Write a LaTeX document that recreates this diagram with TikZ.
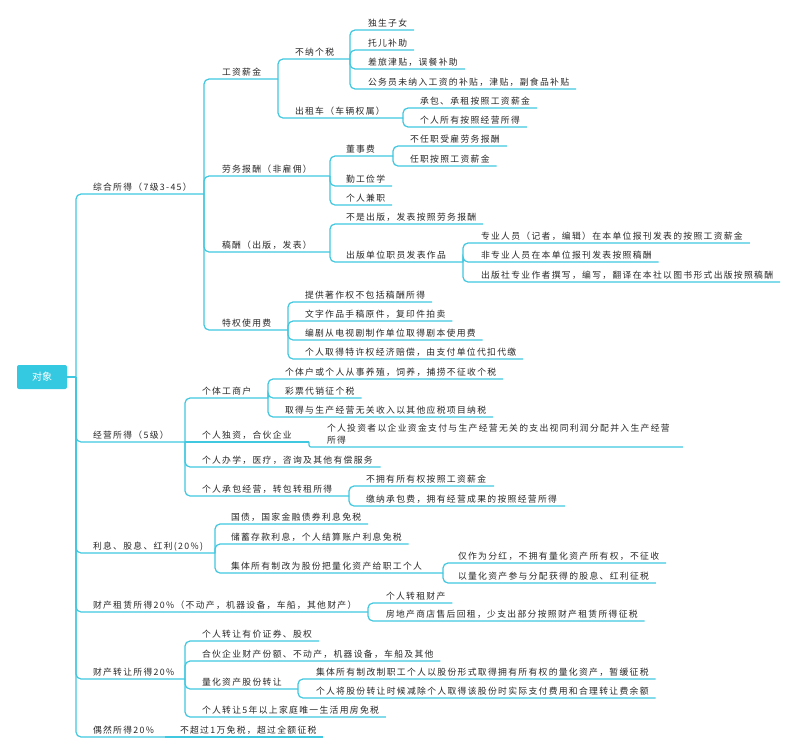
\documentclass[tikz,border=0pt]{standalone}
\usepackage{fontspec}
\newfontfamily\cjk[LetterSpace=15]{Noto Sans CJK SC}
\newfontfamily\cjkroot{Noto Sans CJK SC}
\definecolor{lc}{RGB}{64,200,224}
\definecolor{rootc}{RGB}{52,200,225}
\definecolor{tc}{RGB}{40,40,40}
\tikzset{
  t/.style={anchor=base west, inner sep=0pt, outer sep=0pt, font=\cjk\fontsize{8.8}{12}\selectfont, text=tc},
  link/.style={draw=lc, line width=1.2pt, rounded corners=5pt},
  rootbox/.style={fill=rootc, draw=none, rounded corners=2pt, minimum width=50pt, minimum height=24pt, inner sep=0pt, text=white, font=\cjkroot\fontsize{10}{12}\selectfont},
}
\begin{document}
\begin{tikzpicture}[x=1pt,y=-1pt]
\useasboundingbox[fill=white] (0,0) rectangle (800,753);
% root
\node[rootbox] (R) at (42,377) {对象};
\coordinate (Rj) at (76,377);
\draw[link] (R.east) -- (Rj);

% ---------- level 1
\node[t] (A) at (93,190) {综合所得（7级3-45）};
\coordinate (Aj) at (204,194);
\node[t] (B) at (93,438) {经营所得（5级）};
\coordinate (Bj) at (185,442);
\node[t] (C) at (93,549) {利息、股息、红利(20\%)};
\coordinate (Cj) at (215,553);
\node[t] (D) at (93,608) {财产租赁所得20\%（不动产，机器设备，车船，其他财产）};
\coordinate (Dj) at (368,612);
\node[t] (E) at (93,675) {财产转让所得20\%};
\coordinate (Ej) at (185,679);
\node[t] (F) at (93,733) {偶然所得20\%};
\coordinate (Fj) at (165,737);
\foreach \k in {Aj,Bj,Cj,Dj,Ej,Fj} \draw[link] (Rj) |- (\k);

% ---------- A
\node[t] (A1) at (222,75) {工资薪金};
\coordinate (A1j) at (278,79);
\node[t] (A2) at (222,172) {劳务报酬（非雇佣）};
\coordinate (A2j) at (330,176);
\node[t] (A3) at (222,248) {稿酬（出版，发表）};
\coordinate (A3j) at (330,252);
\node[t] (A4) at (222,326) {特权使用费};
\coordinate (A4j) at (288,330);
\foreach \k in {A1j,A2j,A3j,A4j} \draw[link] (Aj) |- (\k);

\node[t] (A11) at (295,55) {不纳个税};
\coordinate (A11j) at (350,59);
\node[t] (A12) at (295,114) {出租车（车辆权属）};
\coordinate (A12j) at (403,118);
\foreach \k in {A11j,A12j} \draw[link] (A1j) |- (\k);

\node[t] (A111) at (368,26) {独生子女};
\node[t] (A112) at (368,46) {托儿补助};
\node[t] (A113) at (368,65) {差旅津贴，误餐补助};
\node[t] (A114) at (368,85) {公务员未纳入工资的补贴，津贴，副食品补贴};
\foreach \k in {A111,A112,A113,A114} \draw[link] (A11j) |- ([xshift=7pt,yshift=-4pt]\k.base east);

\node[t] (A121) at (420,104) {承包、承租按照工资薪金};
\node[t] (A122) at (420,123) {个人所有按照经营所得};
\foreach \k in {A121,A122} \draw[link] (A12j) |- ([xshift=7pt,yshift=-4pt]\k.base east);

\node[t] (A21) at (346,152) {董事费};
\coordinate (A21j) at (393,156);
\draw[link] (A2j) |- (A21j);
\node[t] (A22) at (346,182) {勤工俭学};
\node[t] (A23) at (346,201) {个人兼职};
\foreach \k in {A22,A23} \draw[link] (A2j) |- ([xshift=7pt,yshift=-4pt]\k.base east);
\node[t] (A211) at (410,142) {不任职受雇劳务报酬};
\node[t] (A212) at (410,162) {任职按照工资薪金};
\foreach \k in {A211,A212} \draw[link] (A21j) |- ([xshift=7pt,yshift=-4pt]\k.base east);

\node[t] (A31) at (346,220) {不是出版，发表按照劳务报酬};
\draw[link] (A3j) |- ([xshift=7pt,yshift=-4pt]A31.base east);
\node[t] (A32) at (346,258) {出版单位职员发表作品};
\coordinate (A32j) at (463,262);
\draw[link] (A3j) |- (A32j);
\node[t] (A321) at (481,239) {专业人员（记者，编辑）在本单位报刊发表的按照工资薪金};
\node[t] (A322) at (481,258) {非专业人员在本单位报刊发表按照稿酬};
\node[t] (A323) at (481,278) {出版社专业作者撰写，编写，翻译在本社以图书形式出版按照稿酬};
\foreach \k in {A321,A322,A323} \draw[link] (A32j) |- ([xshift=7pt,yshift=-4pt]\k.base east);

\node[t] (A41) at (305,298) {提供著作权不包括稿酬所得};
\node[t] (A42) at (305,317) {文字作品手稿原件，复印件拍卖};
\node[t] (A43) at (305,336) {编剧从电视剧制作单位取得剧本使用费};
\node[t] (A44) at (305,355) {个人取得特许权经济赔偿，由支付单位代扣代缴};
\foreach \k in {A41,A42,A43,A44} \draw[link] (A4j) |- ([xshift=7pt,yshift=-4pt]\k.base east);

% ---------- B
\node[t] (B1) at (202,394) {个体工商户};
\coordinate (B1j) at (268,398);
\draw[link] (Bj) |- (B1j);
\node[t] (B2) at (202,438) {个人独资，合伙企业};
\coordinate (B2j) at (309,442);
\draw[link] (Bj) -- (B2j);
\node[t] (B3) at (202,463) {个人办学，医疗，咨询及其他有偿服务};
\draw[link] (Bj) |- ([xshift=8pt,yshift=-4pt]B3.base east);
\node[t] (B4) at (202,492) {个人承包经营，转包转租所得};
\coordinate (B4j) at (349,496);
\draw[link] (Bj) |- (B4j);

\node[t] (B11) at (285,375) {个体户或个人从事养殖，饲养，捕捞不征收个税};
\node[t] (B12) at (285,394) {彩票代销征个税};
\node[t] (B13) at (285,413) {取得与生产经营无关收入以其他应税项目纳税};
\foreach \k in {B11,B12,B13} \draw[link] (B1j) |- ([xshift=7pt,yshift=-4pt]\k.base east);

\node[t, anchor=south west, align=left] (B21) at (327,444) {个人投资者以企业资金支付与生产经营无关的支出视同利润分配并入生产经营\\所得};
\draw[link, rounded corners=2pt] (B2j) |- ([xshift=13pt,yshift=-3pt]B21.south east);

\node[t] (B41) at (366,482) {不拥有所有权按照工资薪金};
\node[t] (B42) at (366,502) {缴纳承包费，拥有经营成果的按照经营所得};
\foreach \k in {B41,B42} \draw[link] (B4j) |- ([xshift=8pt,yshift=-4pt]\k.base east);

% ---------- C
\node[t] (C1) at (231,520) {国债，国家金融债券利息免税};
\node[t] (C2) at (231,540) {储蓄存款利息，个人结算账户利息免税};
\foreach \k in {C1,C2} \draw[link] (Cj) |- ([xshift=7pt,yshift=-4pt]\k.base east);
\node[t] (C3) at (231,569) {集体所有制改为股份把量化资产给职工个人};
\coordinate (C3j) at (443,573);
\draw[link] (Cj) |- (C3j);
\node[t] (C31) at (458,559) {仅作为分红，不拥有量化资产所有权，不征收};
\node[t] (C32) at (458,579) {以量化资产参与分配获得的股息、红利征税};
\foreach \k in {C31,C32} \draw[link] (C3j) |- ([xshift=7pt,yshift=-4pt]\k.base east);

% ---------- D
\node[t] (D1) at (386,599) {个人转租财产};
\node[t] (D2) at (386,617) {房地产商店售后回租，少支出部分按照财产租赁所得征税};
\foreach \k in {D1,D2} \draw[link] (Dj) |- ([xshift=7pt,yshift=-4pt]\k.base east);

% ---------- E
\node[t] (E1) at (202,637) {个人转让有价证券、股权};
\node[t] (E2) at (202,657) {合伙企业财产份额、不动产，机器设备，车船及其他};
\node[t] (E4) at (202,713) {个人转让5年以上家庭唯一生活用房免税};
\foreach \k in {E1,E2,E4} \draw[link] (Ej) |- ([xshift=7pt,yshift=-4pt]\k.base east);
\node[t] (E3) at (202,685) {量化资产股份转让};
\coordinate (E3j) at (298,689);
\draw[link] (Ej) |- (E3j);
\node[t] (E31) at (316,675) {集体所有制改制职工个人以股份形式取得拥有所有权的量化资产，暂缓征税};
\node[t] (E32) at (316,694) {个人将股份转让时候减除个人取得该股份时实际支付费用和合理转让费余额};
\foreach \k in {E31,E32} \draw[link] (E3j) |- ([xshift=7pt,yshift=-4pt]\k.base east);

% ---------- F
\node[t] (F1) at (180,733) {不超过1万免税，超过全额征税};
\draw[link] (Fj) -- ([xshift=7pt,yshift=-4pt]F1.base east);
\end{tikzpicture}
\end{document}
